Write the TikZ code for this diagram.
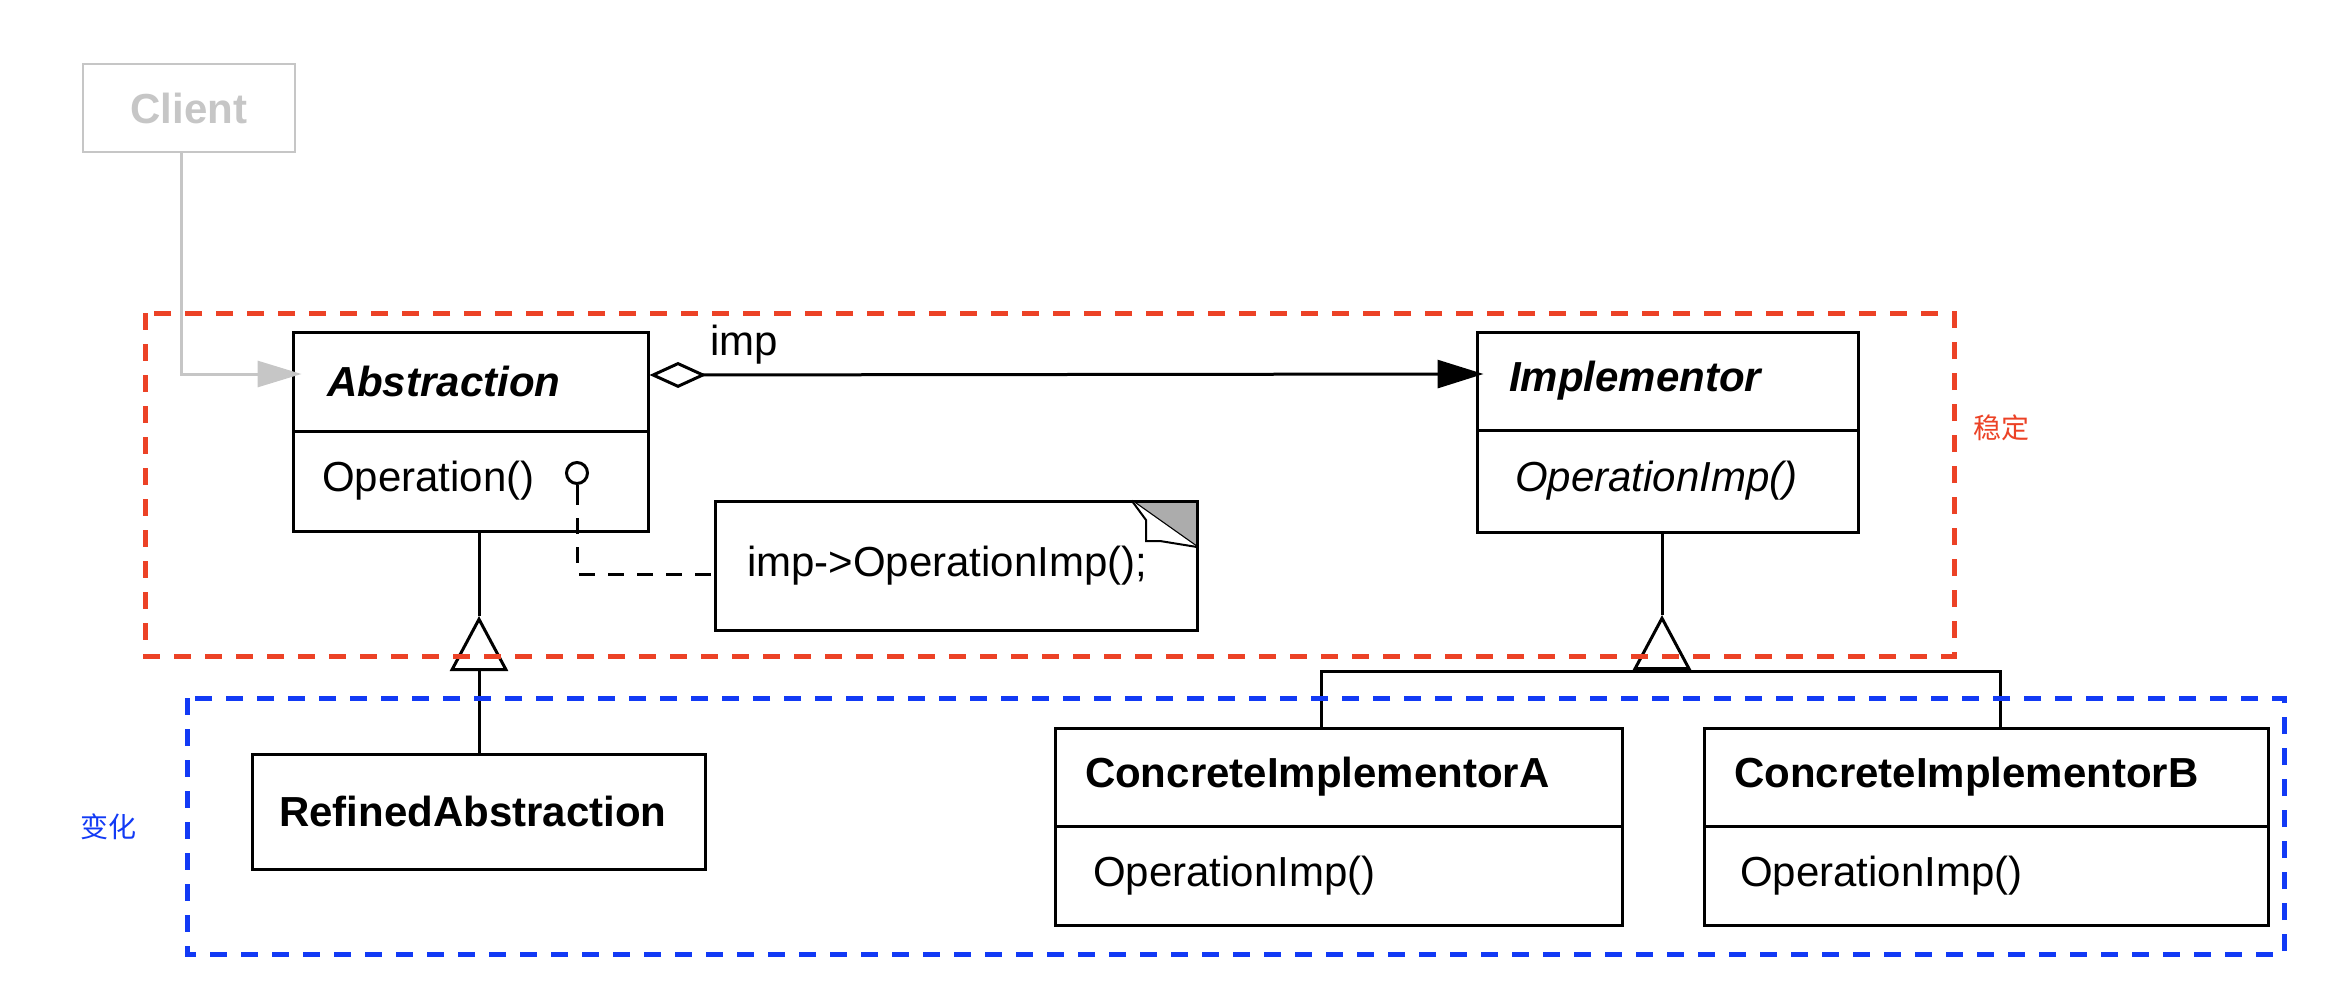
\documentclass[tikz,border=0pt]{standalone}
\usepackage{fontspec}
\setmainfont{Liberation Sans}
\newfontfamily\cjkfont{Noto Sans CJK SC}
\usetikzlibrary{arrows.meta}
\definecolor{stablered}{RGB}{236,66,38}
\definecolor{changeblue}{RGB}{18,58,245}
\definecolor{clientgrey}{RGB}{198,198,198}
\definecolor{foldgrey}{RGB}{172,172,172}
\begin{document}
\begin{tikzpicture}[x=1pt,y=-1pt,
  txt/.style={font=\fontsize{42}{50}\selectfont},
  classpart/.style={txt, draw=black, line width=3pt, fill=white, align=left, inner ysep=0pt},
  notebox/.style={txt, draw=black, line width=3pt, fill=white, align=left, inner ysep=0pt, outer sep=0pt},
  clientbox/.style={draw=clientgrey, line width=2.5pt, minimum width=212pt, minimum height=88pt, inner sep=0pt, text=clientgrey, font=\fontsize{42}{50}\selectfont\bfseries},
  clientline/.style={draw=clientgrey, line width=3pt, -{Triangle[length=44pt,width=26pt,fill=clientgrey]}, shorten >=-10pt},
  assoc/.style={line width=3pt, {Diamond[length=57pt,width=26pt,fill=white]}-{Triangle[length=46pt,width=28pt]}, shorten >=-8pt},
  gen/.style={line width=3pt, -{Triangle[length=55pt,width=58pt,fill=white]}},
  plainline/.style={line width=3pt},
  notedash/.style={line width=3pt, dash pattern=on 16pt off 13pt, dash phase=16pt},
  lolli/.style={circle, draw=black, line width=3pt, minimum size=21pt, inner sep=0pt, fill=white},
  stableframe/.style={draw=stablered, line width=5pt, dash pattern=on 17pt off 14pt},
  changeframe/.style={draw=changeblue, line width=5pt, dash pattern=on 17pt off 14pt},
  cjklabel/.style={font=\cjkfont\fontsize{28}{34}\selectfont}
]
\useasboundingbox (0,0) rectangle (2326,1004);

% Client
\node[clientbox] (client) at (189,108) {Client};

% Abstraction
\node[classpart, minimum height=99pt, text width=287pt, inner xsep=34pt] (absT) at (470.5,381.5) {\bfseries\itshape Abstraction};
\node[classpart, minimum height=100pt, text width=297pt, inner xsep=29pt] (absB) at (470.5,481) {Operation()};

% Implementor
\node[classpart, minimum height=98pt, text width=317pt, inner xsep=32pt] (implT) at (1667.5,381) {\bfseries\itshape Implementor};
\node[classpart, minimum height=102pt, text width=305pt, inner xsep=38pt] (implB) at (1667.5,481) {\itshape OperationImp()};

% Note with folded corner
\node[notebox, minimum height=129pt, text width=418pt, inner xsep=32pt] (note) at (956,565.5) {imp->OperationImp();};
\fill[foldgrey] ([xshift=-65pt]note.north east) -- (note.north east) -- ([yshift=-46pt]note.north east) -- cycle;
\draw[line width=3pt] ([xshift=-66pt]note.north east) -- (note.north east) -- ([yshift=-47pt]note.north east);
\draw[line width=2.5pt] ([xshift=-65pt]note.north east) -- ([yshift=-46pt]note.north east);
\draw[line width=2pt, fill=white] ([xshift=-65pt]note.north east) -- ([xshift=-51pt,yshift=-19pt]note.north east) -- ([xshift=-51pt,yshift=-40pt]note.north east) -- ([xshift=-37pt,yshift=-40pt]note.north east) -- ([yshift=-46pt]note.north east);

% RefinedAbstraction
\node[classpart, minimum height=115pt, text width=399pt, inner xsep=27pt] (refined) at (478.5,811.5) {\bfseries RefinedAbstraction};

% Concrete implementors
\node[classpart, minimum height=98pt, text width=507pt, inner xsep=30pt] (conAT) at (1338.5,777) {\bfseries ConcreteImplementorA};
\node[classpart, minimum height=99pt, text width=491pt, inner xsep=38pt] (conAB) at (1338.5,875.5) {OperationImp()};
\node[classpart, minimum height=98pt, text width=504pt, inner xsep=30pt] (conBT) at (1986,777) {\bfseries ConcreteImplementorB};
\node[classpart, minimum height=99pt, text width=492pt, inner xsep=36pt] (conBB) at (1986,875.5) {OperationImp()};

% Client connector
\draw[clientline] ([xshift=-8pt]client.south) |- ([yshift=7.5pt]absT.west);

% imp association
\draw[assoc] ([yshift=6.5pt]absT.east) -- ([yshift=7pt]implT.west);
\node[txt, anchor=base west, inner sep=0pt] (impLbl) at (710,355) {imp};

% Lollipop and dashed link to note
\node[lolli] (lol) at (577,473) {};
\draw[plainline] (lol.south) -- ++(0,20) coordinate (stemEnd);
\coordinate (noteIn) at ([yshift=-8.5pt]note.west);
\draw[notedash] (stemEnd) |- (noteIn);

% Generalization Abstraction <- RefinedAbstraction
\coordinate (absTip) at (479,616);
\draw[plainline] ([xshift=8.5pt]absB.south) -- (absTip);
\draw[gen] ([xshift=0.5pt]refined.north) -- (absTip);

% Generalization Implementor <- Concrete
\coordinate (implTip) at (1662,615);
\coordinate (bar) at (1662,671);
\draw[plainline] ([xshift=-5.5pt]implB.south) -- (implTip);
\draw[plainline] ([xshift=-17.5pt]conAT.north) |- (bar) -| ([xshift=14pt]conBT.north);
\draw[gen] (bar) -- (implTip);

% Frames
\draw[stableframe] (145,313) rectangle (1954,656);
\draw[changeframe] (187,698) rectangle (2284,954);
\node[cjklabel, text=stablered] (stableLbl) at (2001,428) {稳定};
\node[cjklabel, text=changeblue] (changeLbl) at (108,827) {变化};
\end{tikzpicture}
\end{document}
